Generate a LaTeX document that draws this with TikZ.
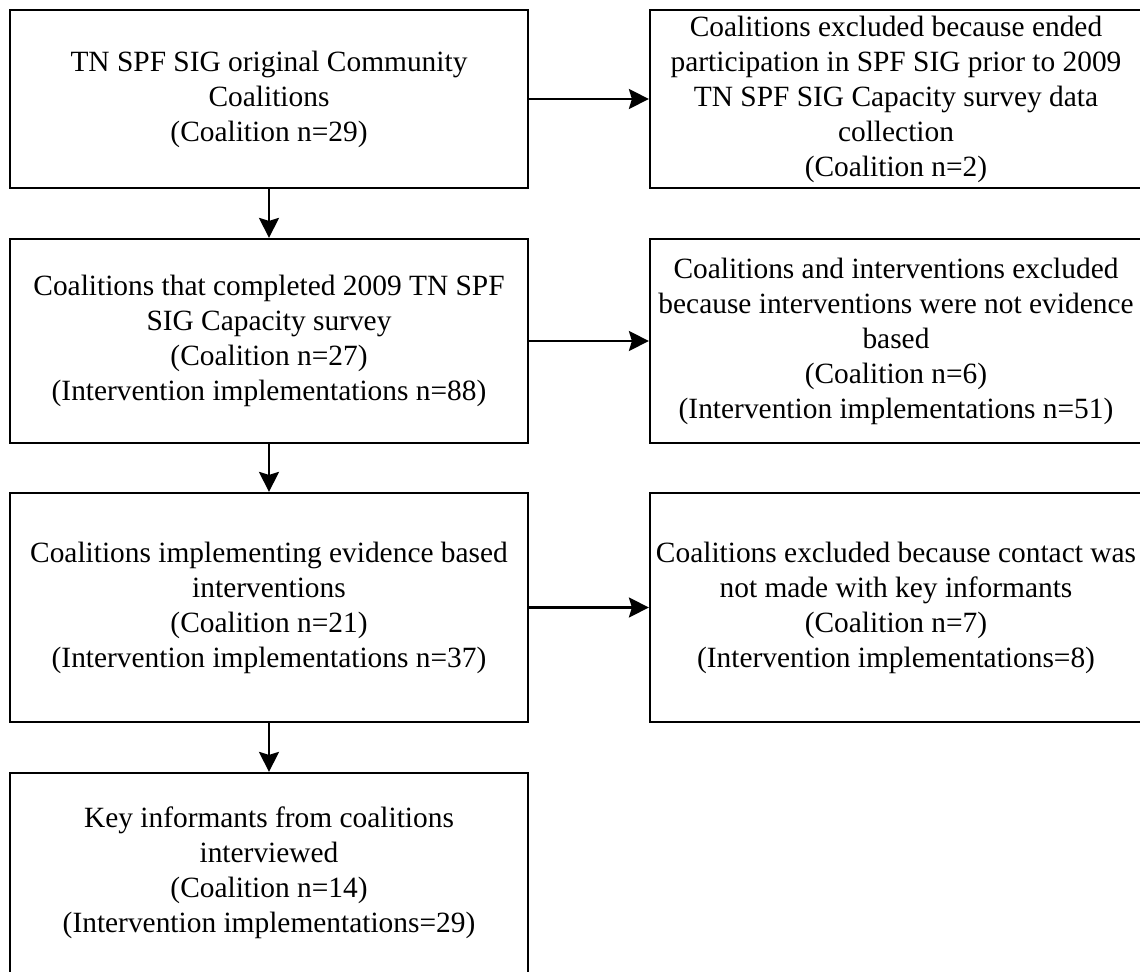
\documentclass[tikz,border=0pt]{standalone}
\usepackage{fontspec}
\setmainfont{Liberation Serif}
\usetikzlibrary{arrows.meta,positioning}

\tikzset{
  flowbox/.style={draw, line width=1.1pt, rectangle, align=center, inner sep=0pt,
    minimum width=259pt, font=\fontsize{14.7}{17.5}\selectfont},
  flowarrow/.style={line width=1.1pt, -{Stealth[length=10pt,width=10pt,inset=1.5pt]}}
}

\begin{document}
\begin{tikzpicture}[x=0.5pt, y=-0.5pt]
    \useasboundingbox (0,0) rectangle (1140,972);

    % Included coalitions (left column)
    \node[flowbox, minimum height=89pt] (orig) at (269,99)
        {TN SPF SIG original Community\\Coalitions\\(Coalition n=29)};
    \node[flowbox, minimum height=102pt] (survey) at (269,341)
        {Coalitions that completed 2009 TN SPF\\SIG Capacity survey\\(Coalition n=27)\\(Intervention implementations n=88)};
    \node[flowbox, minimum height=114.5pt] (evid) at (269,607.5)
        {Coalitions implementing evidence based\\interventions\\(Coalition n=21)\\(Intervention implementations n=37)};
    \node[flowbox, minimum height=100pt] (keyinf) at (269,873)
        {Key informants from coalitions\\interviewed\\(Coalition n=14)\\(Intervention implementations=29)};

    % Excluded coalitions (right column)
    \node[flowbox, minimum width=246pt, minimum height=89pt] (exended) at (896,99)
        {Coalitions excluded because ended\\participation in SPF SIG prior to 2009\\TN SPF SIG Capacity survey data\\collection\\(Coalition n=2)};
    \node[flowbox, minimum width=246pt, minimum height=102pt] (exnotev) at (896,341)
        {Coalitions and interventions excluded\\because interventions were not evidence\\based\\(Coalition n=6)\\(Intervention implementations n=51)};
    \node[flowbox, minimum width=246pt, minimum height=114.5pt] (excontact) at (896,607.5)
        {Coalitions excluded because contact was\\not made with key informants\\(Coalition n=7)\\(Intervention implementations=8)};

    % Connectors
    \draw[flowarrow] (orig) -- (survey);
    \draw[flowarrow] (survey) -- (evid);
    \draw[flowarrow] (evid) -- (keyinf);
    \draw[flowarrow] (orig) -- (exended);
    \draw[flowarrow] (survey) -- (exnotev);
    \draw[flowarrow] (evid) -- (excontact);
\end{tikzpicture}
\end{document}
